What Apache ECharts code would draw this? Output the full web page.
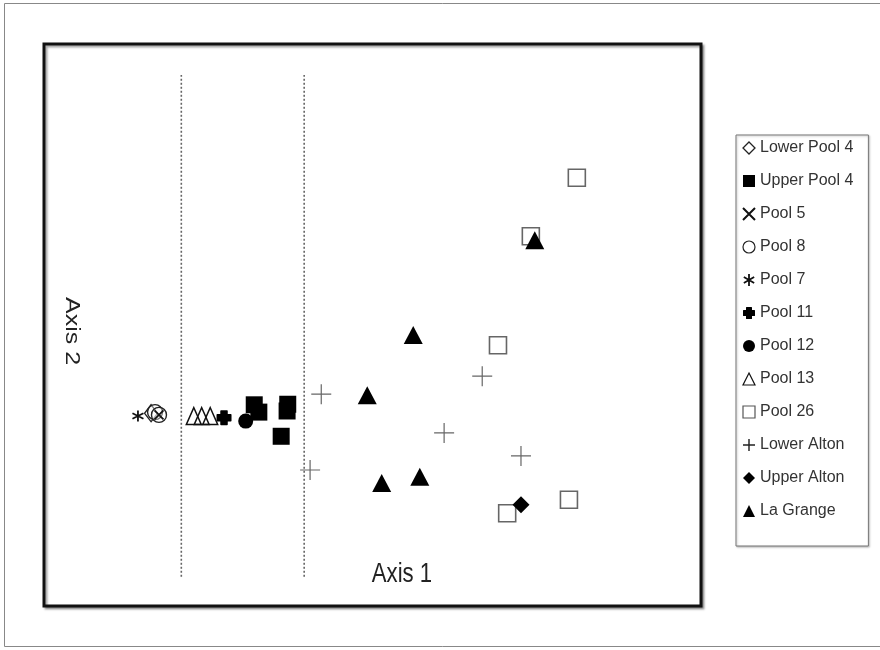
<!DOCTYPE html>
<html>
<head>
<meta charset="utf-8">
<script src="https://cdn.jsdelivr.net/npm/echarts@6/dist/echarts.min.js"></script>
<style>html,body{margin:0;padding:0;background:#fff;}#c{width:880px;height:650px;}</style>
</head>
<body>
<div id="c"></div>
<script>
// Ordination scores (arbitrary 0-100 units on both axes)
const seriesNames = ['Lower Pool 4','Upper Pool 4','Pool 5','Pool 8','Pool 7','Pool 11','Pool 12','Pool 13','Pool 26','Lower Alton','Upper Alton','La Grange'];
const lowerPool4 = [[16.3, 34.3]];
const upperPool4 = [[32.0, 35.8],[32.7, 34.5],[37.1, 35.9],[37.0, 34.7],[36.1, 30.2]];
const pool5 = [[17.5, 34.0]];
const pool8 = [[16.9, 34.5],[17.5, 34.0]];
const pool7 = [[14.3, 33.8]];
const pool11 = [[27.4, 33.5]];
const pool12 = [[30.7, 32.9]];
const pool13 = [[22.8, 33.8],[24.0, 33.8],[25.3, 33.8]];
const pool26 = [[69.1, 46.4],[70.5, 16.5],[79.9, 18.9],[81.1, 76.2],[74.1, 65.8]];
const lowerAlton = [[42.2, 37.7],[40.5, 24.2],[60.9, 30.8],[66.7, 40.9],[72.6, 26.7]];
const upperAlton = [[72.6, 18.0]];
const laGrange = [[56.2, 48.2],[49.2, 37.5],[51.4, 21.9],[57.2, 23.0],[74.7, 65.1]];
// dashed group dividers along Axis 1
const dividerX = [20.9, 39.6];
const dividerY = [5.2, 94.5];
const axisTitles = ['Axis 1', 'Axis 2'];

const PLUS = 'path://M0,9.4H20V10.6H0Z M9.4,0H10.6V20H9.4Z';
const PLUS_ICON = 'path://M0,8.8H20V11.2H0Z M8.8,0H11.2V20H8.8Z';
const XMARK = 'path://M0,0L10,10M10,0L0,10';
const AST = 'path://M5,0L5,10M0.7,2.5L9.3,7.5M0.7,7.5L9.3,2.5';
const FATPLUS = 'path://M3,0H7Q7.5,0,7.5,0.5V2.5H9.5Q10,2.5,10,3V7Q10,7.5,9.5,7.5H7.5V9.5Q7.5,10,7,10H3Q2.5,10,2.5,9.5V7.5H0.5Q0,7.5,0,7V3Q0,2.5,0.5,2.5H2.5V0.5Q2.5,0,3,0Z';

const styles = {
  'Lower Pool 4': {symbol:'diamond', size:[13,17], item:{color:'#fff', borderColor:'#222', borderWidth:1.4}, icon:{color:'#fff', borderColor:'#222', borderWidth:1.3}},
  'Upper Pool 4': {symbol:'rect', size:17, item:{color:'#000'}, icon:{color:'#000'}},
  'Pool 5': {symbol:XMARK, size:9, item:{color:'rgba(0,0,0,0)', borderColor:'#111', borderWidth:1.8}, icon:{color:'rgba(0,0,0,0)', borderColor:'#111', borderWidth:2}},
  'Pool 8': {symbol:'circle', size:15, item:{color:'rgba(255,255,255,0.4)', borderColor:'#222', borderWidth:1.4}, icon:{color:'#fff', borderColor:'#222', borderWidth:1.2}},
  'Pool 7': {symbol:AST, size:11, item:{color:'rgba(0,0,0,0)', borderColor:'#111', borderWidth:1.8}, icon:{color:'rgba(0,0,0,0)', borderColor:'#111', borderWidth:1.8}},
  'Pool 11': {symbol:FATPLUS, size:15, item:{color:'#000'}, icon:{color:'#000'}},
  'Pool 12': {symbol:'circle', size:15, item:{color:'#000'}, icon:{color:'#000'}},
  'Pool 13': {symbol:'triangle', size:[15,17], item:{color:'rgba(255,255,255,0)', borderColor:'#111', borderWidth:1.5}, icon:{color:'#fff', borderColor:'#111', borderWidth:1.2}},
  'Pool 26': {symbol:'rect', size:17, item:{color:'#fff', borderColor:'#666', borderWidth:1.6}, icon:{color:'#fff', borderColor:'#555', borderWidth:1.2}},
  'Lower Alton': {symbol:PLUS, size:20, item:{color:'#666'}, icon:{color:'#222'}, legendIcon: PLUS_ICON},
  'Upper Alton': {symbol:'diamond', size:17, item:{color:'#000'}, icon:{color:'#000'}},
  'La Grange': {symbol:'triangle', size:[19,18], item:{color:'#000'}, icon:{color:'#000'}}
};
const dataByName = {
  'Lower Pool 4': lowerPool4, 'Upper Pool 4': upperPool4, 'Pool 5': pool5, 'Pool 8': pool8,
  'Pool 7': pool7, 'Pool 11': pool11, 'Pool 12': pool12, 'Pool 13': pool13, 'Pool 26': pool26,
  'Lower Alton': lowerAlton, 'Upper Alton': upperAlton, 'La Grange': laGrange
};
// drawing order (later on top)
const drawOrder = ['Pool 26','Lower Alton','La Grange','Upper Alton','Upper Pool 4','Pool 12','Pool 11','Pool 13','Lower Pool 4','Pool 8','Pool 5','Pool 7'];

const series = [];
dividerX.forEach((x, i) => {
  series.push({
    name: 'divider' + i, type: 'line', silent: true, symbol: 'none', z: 1,
    data: [[x, dividerY[0]], [x, dividerY[1]]],
    lineStyle: {color: '#666', width: 1.6, type: [2, 2]}
  });
});
drawOrder.forEach((n, i) => {
  const s = styles[n];
  series.push({
    name: n, type: 'scatter', data: dataByName[n], symbol: s.symbol, symbolSize: s.size,
    itemStyle: Object.assign({opacity: 1}, s.item), z: 2 + i, silent: true
  });
});

const chart = echarts.init(document.getElementById('c'), null, {renderer: 'canvas'});
chart.setOption({
  backgroundColor: '#fff',
  animation: false,
  graphic: [
    {type: 'rect', shape: {x: 4.5, y: 3.5, width: 900, height: 643}, style: {fill: 'none', stroke: '#888', lineWidth: 1}, z: -10},
    {type: 'text', x: 402, y: 575, scaleX: 0.82, z: 50,
     style: {text: axisTitles[0], font: '27px "Liberation Sans", Arial, sans-serif', fill: '#222', align: 'center', verticalAlign: 'middle'}},
    {type: 'text', x: 72, y: 331, rotation: -Math.PI / 2, scaleX: 1.25, z: 50,
     style: {text: axisTitles[1], font: '20px "Liberation Sans", Arial, sans-serif', fill: '#222', align: 'center', verticalAlign: 'middle'}}
  ],
  grid: {left: 44, top: 44, width: 657, height: 562, show: true, backgroundColor: '#fff', borderColor: '#111', borderWidth: 3,
         shadowColor: 'rgba(0,0,0,0.35)', shadowBlur: 2, shadowOffsetX: 2, shadowOffsetY: 2},
  xAxis: {type: 'value', min: 0, max: 100, axisLine: {show: false}, axisTick: {show: false}, axisLabel: {show: false}, splitLine: {show: false}},
  yAxis: {type: 'value', min: 0, max: 100, axisLine: {show: false}, axisTick: {show: false}, axisLabel: {show: false}, splitLine: {show: false}},
  legend: {
    orient: 'vertical', left: 736, top: 135,
    padding: [4, 15, 26, 6], itemGap: 15, itemWidth: 12, itemHeight: 12,
    borderColor: '#777', borderWidth: 1, backgroundColor: '#fff',
    shadowColor: 'rgba(0,0,0,0.25)', shadowBlur: 2, shadowOffsetX: 1, shadowOffsetY: 1,
    textStyle: {fontFamily: '"Liberation Sans", Arial, sans-serif', fontSize: 16, color: '#333', lineHeight: 18},
    data: seriesNames.map(n => ({name: n, icon: styles[n].legendIcon || styles[n].symbol, itemStyle: styles[n].icon}))
  },
  series: series
});
</script>
</body>
</html>
